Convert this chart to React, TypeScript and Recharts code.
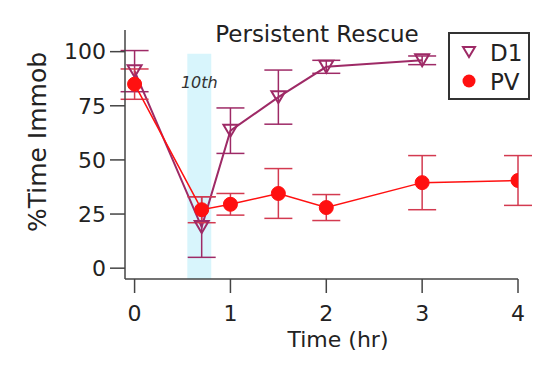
import React from 'react';
import {
  ComposedChart,
  Line,
  XAxis,
  YAxis,
  ErrorBar,
  ReferenceArea,
  Customized,
} from 'recharts';

const d1Times = [0, 0.7, 1, 1.5, 2, 3];
const d1Values = [91, 19, 63.5, 79, 93, 96];
const d1Errors = [9.5, 14, 10.5, 12.5, 3, 2];

const pvTimes = [0, 0.7, 1, 1.5, 2, 3, 4];
const pvValues = [85, 27, 29.5, 34.5, 28, 39.5, 40.5];
const pvErrors = [7, 6, 5, 11.5, 6, 12.5, 11.5];

const xTicks = [0, 1, 2, 3, 4];
const yTicks = [0, 25, 50, 75, 100];

const shadeStart = 0.55;
const shadeEnd = 0.8;

const d1Data = d1Times.map((t, i) => ({ t, v: d1Values[i], err: d1Errors[i] }));
const pvData = pvTimes.map((t, i) => ({ t, v: pvValues[i], err: pvErrors[i] }));

const D1_COLOR = '#9e2a66';
const PV_COLOR = '#ff1010';
const PV_ERR = '#d33a50';
const AXIS = '#444';
const FONT = '"DejaVu Sans", sans-serif';

const TriangleDown = ({ cx, cy, size = 7, color = D1_COLOR }: any) => {
  if (cx == null || cy == null) return null;
  const h = size * 1.7;
  return (
    <polygon
      points={`${cx - size},${cy - h / 2} ${cx + size},${cy - h / 2} ${cx},${cy + h / 2}`}
      fill="none"
      stroke={color}
      strokeWidth={2}
    />
  );
};

// legend drawn as an overlay so it doesn't eat plot space
const LegendBox = () => (
  <div
    style={{
      position: 'absolute',
      left: 448,
      top: 32,
      border: '2px solid #333',
      width: 82,
      height: 68,
      fontFamily: FONT,
      fontSize: 23,
      color: '#222',
      boxSizing: 'border-box',
      paddingTop: 4,
      background: '#fff',
    }}
  >
    <div style={{ display: 'flex', alignItems: 'center', height: 29 }}>
      <svg width={40} height={29}>
        <TriangleDown cx={19} cy={14} size={6} />
      </svg>
      <span>D1</span>
    </div>
    <div style={{ display: 'flex', alignItems: 'center', height: 29 }}>
      <svg width={40} height={29}>
        <circle cx={19} cy={14} r={6.5} fill={PV_COLOR} />
      </svg>
      <span>PV</span>
    </div>
  </div>
);

export default function App() {
  return (
    <div style={{ position: 'absolute', left: 0, top: 0, width: 554, height: 366, background: '#fff' }}>
      <ComposedChart
        width={554}
        height={366}
        margin={{ top: 30, right: 36, bottom: 27, left: 25 }}
        style={{ fontFamily: FONT }}
      >
        <XAxis
          type="number"
          dataKey="t"
          domain={[-0.1, 4]}
          ticks={xTicks}
          allowDataOverflow
          height={60}
          tickSize={14}
          tickMargin={12}
          axisLine={{ stroke: AXIS, strokeWidth: 1.5 }}
          tickLine={{ stroke: AXIS, strokeWidth: 1.5 }}
          tick={{ fill: '#222', fontSize: 22 }}
          label={{
            content: () => (
              <text x={338} y={347} textAnchor="middle" fontSize={22} fill="#222" fontFamily={FONT}>
                Time (hr)
              </text>
            ),
          }}
        />
        <YAxis
          type="number"
          domain={[-5, 110]}
          ticks={yTicks}
          allowDataOverflow
          width={100}
          tickSize={15}
          tickMargin={4}
          axisLine={{ stroke: AXIS, strokeWidth: 1.5 }}
          tickLine={{ stroke: AXIS, strokeWidth: 1.5 }}
          tick={{ fill: '#222', fontSize: 22 }}
          label={{
            content: () => (
              <text
                x={0}
                y={0}
                transform="translate(46,142) rotate(-90)"
                textAnchor="middle"
                fontSize={25}
                fill="#222"
                fontFamily={FONT}
              >
                %Time Immob
              </text>
            ),
          }}
        />
        <ReferenceArea
          x1={shadeStart}
          x2={shadeEnd}
          y1={-5}
          y2={99}
          fill="#d8f5fc"
          fillOpacity={1}
          stroke="none"
          label={{
            content: (props: any) => {
              const vb = props.viewBox || {};
              return (
                <text
                  x={vb.x + vb.width / 2}
                  y={vb.y + 34}
                  textAnchor="middle"
                  fontSize={16}
                  fontStyle="italic"
                  fill="#333"
                  fontFamily={FONT}
                >
                  10th
                </text>
              );
            },
          }}
        />
        <Line
          data={d1Data}
          dataKey="v"
          name="D1"
          stroke={D1_COLOR}
          strokeWidth={2}
          isAnimationActive={false}
          dot={(p: any) => <TriangleDown key={`d1-${p.index}`} cx={p.cx} cy={p.cy} />}
          activeDot={false}
        >
          <ErrorBar dataKey="err" direction="y" width={14} stroke={D1_COLOR} strokeWidth={1.5} />
        </Line>
        <Line
          data={pvData}
          dataKey="v"
          name="PV"
          stroke={PV_COLOR}
          strokeWidth={1.5}
          isAnimationActive={false}
          dot={{ r: 7, fill: PV_COLOR, stroke: PV_COLOR, strokeWidth: 1 }}
          activeDot={false}
        >
          <ErrorBar dataKey="err" direction="y" width={14} stroke={PV_ERR} strokeWidth={1.5} />
        </Line>
        <Customized
          component={() => (
            <text x={317} y={42} textAnchor="middle" fontSize={23} fill="#222" fontFamily={FONT}>
              Persistent Rescue
            </text>
          )}
        />
      </ComposedChart>
      <LegendBox />
    </div>
  );
}
